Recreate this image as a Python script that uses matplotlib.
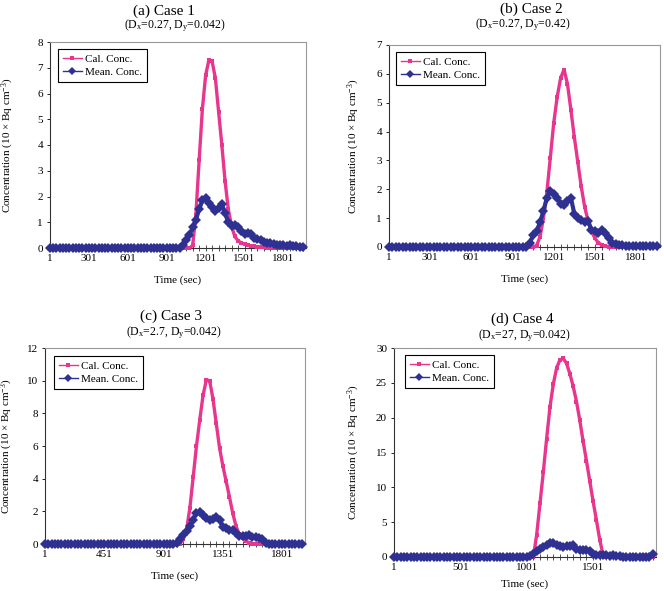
import matplotlib
matplotlib.use("Agg")
import matplotlib.pyplot as plt
from matplotlib.ticker import FixedLocator

plt.rcParams['font.family'] = ['Liberation Serif', 'DejaVu Serif']
plt.rcParams['mathtext.fontset'] = 'custom'
plt.rcParams['mathtext.rm'] = 'Liberation Serif'
plt.rcParams['mathtext.it'] = 'Liberation Serif:italic'

# sample times (sec), one reading every 25 s
time = list(range(1, 1952, 25))

# case 1
cal_1 = [0, 0, 0, 0, 0, 0, 0, 0, 0, 0,
         0, 0, 0, 0, 0, 0, 0, 0, 0, 0,
         0, 0, 0, 0, 0, 0, 0, 0, 0, 0,
         0, 0, 0, 0, 0, 0, 0.03, 0.05, 0.05, 0.03,
         0, 0, 0, 0, 0.1, 1.3, 3.4, 5.4, 6.7, 7.3,
         7.25, 6.6, 5.3, 4.0, 2.6, 1.5, 0.85, 0.45, 0.28, 0.2,
         0.15, 0.12, 0.08, 0.06, 0.04, 0.03, 0.02, 0.01, 0, 0,
         0, 0, 0, 0, 0, 0, 0, 0, 0]
mean_1 = [0, 0, 0, 0, 0, 0, 0, 0, 0, 0,
          0, 0, 0, 0, 0, 0, 0, 0, 0, 0,
          0, 0, 0, 0, 0, 0, 0, 0, 0, 0,
          0, 0, 0, 0, 0, 0, 0, 0, 0, 0,
          0, 0.1, 0.3, 0.5, 0.8, 1.1, 1.5, 1.85, 1.95, 1.75,
          1.6, 1.45, 1.55, 1.7, 1.35, 1.0, 0.85, 0.9, 0.8, 0.65,
          0.55, 0.6, 0.55, 0.4, 0.35, 0.32, 0.25, 0.2, 0.18, 0.15,
          0.12, 0.1, 0.1, 0.08, 0.1, 0.07, 0.06, 0.05, 0.05]

# case 2
cal_2 = [0, 0, 0, 0, 0, 0, 0, 0, 0, 0,
         0, 0, 0, 0, 0, 0, 0, 0, 0, 0,
         0, 0, 0, 0, 0, 0, 0, 0, 0, 0,
         0, 0, 0, 0, 0, 0, 0, 0, 0, 0,
         0, 0, 0, 0.05, 0.35, 1.0, 1.9, 3.1, 4.3, 5.2,
         5.85, 6.15, 5.65, 4.75, 3.8, 2.95, 2.1, 1.4, 0.9, 0.55,
         0.3, 0.15, 0.07, 0.03, 0.01, 0, 0, 0, 0, 0,
         0, 0, 0, 0, 0, 0, 0, 0, 0]
mean_2 = [0, 0, 0, 0, 0, 0, 0, 0, 0, 0,
          0, 0, 0, 0, 0, 0, 0, 0, 0, 0,
          0, 0, 0, 0, 0, 0, 0, 0, 0, 0,
          0, 0, 0, 0, 0, 0, 0, 0, 0, 0,
          0, 0.15, 0.4, 0.55, 0.85, 1.25, 1.7, 1.95, 1.85, 1.7,
          1.5, 1.45, 1.6, 1.7, 1.15, 1.0, 0.95, 0.85, 0.9, 0.6,
          0.55, 0.5, 0.6, 0.5, 0.3, 0.15, 0.1, 0.08, 0.06, 0.05,
          0.04, 0.04, 0.03, 0.03, 0.03, 0.02, 0.02, 0.02, 0.02]

# case 3
cal_3 = [0, 0, 0, 0, 0, 0, 0, 0, 0, 0,
         0, 0, 0, 0, 0, 0, 0, 0, 0, 0,
         0, 0, 0, 0, 0, 0, 0, 0, 0, 0,
         0, 0, 0, 0, 0, 0.03, 0.05, 0.03, 0, 0,
         0, 0, 0.3, 0.9, 2.2, 4.1, 6.0, 7.6, 9.1, 10.05,
         10.0, 8.9, 7.4, 5.9, 4.8, 3.85, 2.9, 1.9, 1.1, 0.6,
         0.35, 0.18, 0.08, 0.03, 0, 0, 0, 0, 0, 0,
         0, 0, 0, 0, 0, 0, 0, 0, 0]
mean_3 = [0, 0, 0, 0, 0, 0, 0, 0, 0, 0,
          0, 0, 0, 0, 0, 0, 0, 0, 0, 0,
          0, 0, 0, 0, 0, 0, 0, 0, 0, 0,
          0, 0, 0, 0, 0, 0, 0, 0, 0, 0,
          0.05, 0.3, 0.55, 0.8, 1.1, 1.5, 1.9, 1.95, 1.75, 1.6,
          1.5, 1.55, 1.65, 1.45, 1.05, 0.95, 0.85, 0.85, 0.65, 0.5,
          0.5, 0.5, 0.55, 0.45, 0.4, 0.38, 0.3, 0.05, 0.02, 0.02,
          0.02, 0.02, 0.01, 0.01, 0.01, 0.01, 0.01, 0.01, 0.01]

# case 4
cal_4 = [0, 0, 0, 0, 0, 0, 0, 0, 0, 0,
         0, 0, 0, 0, 0, 0, 0, 0, 0, 0,
         0, 0, 0, 0, 0, 0, 0, 0, 0, 0,
         0, 0, 0, 0, 0, 0, 0, 0, 0, 0,
         0, 0, 0, 3.2, 7.7, 12.2, 17.0, 21.5, 24.8, 27.1,
         28.3, 28.5, 27.8, 26.3, 24.5, 22.3, 19.6, 16.6, 13.8, 10.9,
         8.0, 5.3, 2.5, 0.3, 0, 0, 0, 0, 0, 0,
         0, 0, 0, 0, 0, 0, 0, 0, 0]
mean_4 = [0, 0, 0, 0, 0, 0, 0, 0, 0, 0,
          0, 0, 0, 0, 0, 0, 0, 0, 0, 0,
          0, 0, 0, 0, 0, 0, 0, 0, 0, 0,
          0, 0, 0, 0, 0, 0, 0, 0, 0, 0,
          0, 0.1, 0.4, 0.8, 1.1, 1.4, 1.75, 2.0, 1.95, 1.7,
          1.6, 1.5, 1.55, 1.6, 1.7, 1.2, 1.0, 1.05, 0.95, 0.8,
          0.5, 0.3, 0.3, 0.25, 0.3, 0.2, 0.25, 0.2, 0.1, 0.05,
          0.05, 0.05, 0.05, 0.05, 0.05, 0.05, 0.05, 0.05, 0.45]

titles = ["(a) Case 1", "(b) Case 2", "(c) Case 3", "(d) Case 4"]
params = [r"(D$_\mathregular{x}$=0.27, D$_\mathregular{y}$=0.042)",
          r"(D$_\mathregular{x}$=0.27, D$_\mathregular{y}$=0.42)",
          r"(D$_\mathregular{x}$=2.7, D$_\mathregular{y}$=0.042)",
          r"(D$_\mathregular{x}$=27, D$_\mathregular{y}$=0.042)"]
xtick_labels = [[1, 301, 601, 901, 1201, 1501, 1801],
                [1, 301, 601, 901, 1201, 1501, 1801],
                [1, 451, 901, 1351, 1801],
                [1, 501, 1001, 1501]]
ymax = [8, 7, 12, 30]
ystep = [1, 1, 2, 5]
cal = [cal_1, cal_2, cal_3, cal_4]
mean = [mean_1, mean_2, mean_3, mean_4]

PINK = "#E8358E"
NAVY = "#2E3192"
W, H = 664, 591

# pixel boxes: left, top, right, bottom
boxes = [(50, 42, 306, 248), (389, 45, 660, 247),
         (45, 348, 305, 544), (394, 348, 656, 557)]
title_pos = [(164, 11), (531, 9), (171, 316), (522, 319)]
param_pos = [(175, 26), (523, 25), (174, 333), (524, 336)]
ylab_x = [-0.133, -0.100, -0.115, -0.122]
xlab_pad = [9, 9, 9, 6]
legend_xy = [(58, 49), (396, 52), (54, 356), (405, 355)]

fig = plt.figure(figsize=(W / 100, H / 100), dpi=100)

for i in range(4):
    l, t, r, b = boxes[i]
    ax = fig.add_axes([l / W, 1 - b / H, (r - l) / W, (b - t) / H])
    ax.plot(time, cal[i], color=PINK, lw=2.4, marker='s', ms=2.6, mew=0,
            label="Cal. Conc.", clip_on=False, zorder=3)
    ax.plot(time, mean[i], color=NAVY, lw=3.0, marker='D', ms=4.6, mew=0,
            label="Mean. Conc.", clip_on=False, zorder=4)
    ax.set_xlim(1, 1975)
    ax.set_ylim(0, ymax[i])
    ax.set_xticks(xtick_labels[i])
    ax.set_xticklabels([str(v) for v in xtick_labels[i]])
    ax.xaxis.set_minor_locator(FixedLocator(list(range(1, 1976, 50))))
    ax.set_yticks(list(range(0, ymax[i] + 1, ystep[i])))
    ax.set_axisbelow(True)
    ax.tick_params(axis='x', which='both', direction='inout', length=4,
                   width=0.6, labelsize=8, pad=2, color='#333333')
    ax.tick_params(axis='y', direction='out', length=2, width=0.6,
                   labelsize=8, pad=3)
    for s in ['left', 'bottom']:
        ax.spines[s].set_color('#333333')
        ax.spines[s].set_linewidth(0.8)
    for s in ['top', 'right']:
        ax.spines[s].set_color('#999999')
        ax.spines[s].set_linewidth(0.8)
    ax.set_xlabel("Time (sec)", fontsize=8, labelpad=xlab_pad[i])
    ax.set_ylabel(r"Concentration (10 $\times$ Bq cm$^{-3}$)", fontsize=8)
    ax.yaxis.set_label_coords(ylab_x[i], 0.5)
    lx, ly = legend_xy[i]
    leg = ax.legend(loc='upper left',
                    bbox_to_anchor=((lx - l) / (r - l), (b - ly) / (b - t)),
                    borderaxespad=0, fancybox=False, edgecolor='black',
                    framealpha=1, fontsize=8, handlelength=1.7,
                    labelspacing=0.3, borderpad=0.45, handletextpad=0.3)
    leg.get_frame().set_linewidth(0.8)
    for h, m in zip(leg.get_lines(), [2.8, 3.6]):
        h.set_linewidth(1.0)
        h.set_markersize(m)
    tx, ty = title_pos[i]
    fig.text(tx / W, 1 - ty / H, titles[i], ha='center', va='center', fontsize=11)
    px, py = param_pos[i]
    fig.text(px / W, 1 - py / H, params[i], ha='center', va='center', fontsize=8.5)

fig.savefig("out.png", dpi=100)
